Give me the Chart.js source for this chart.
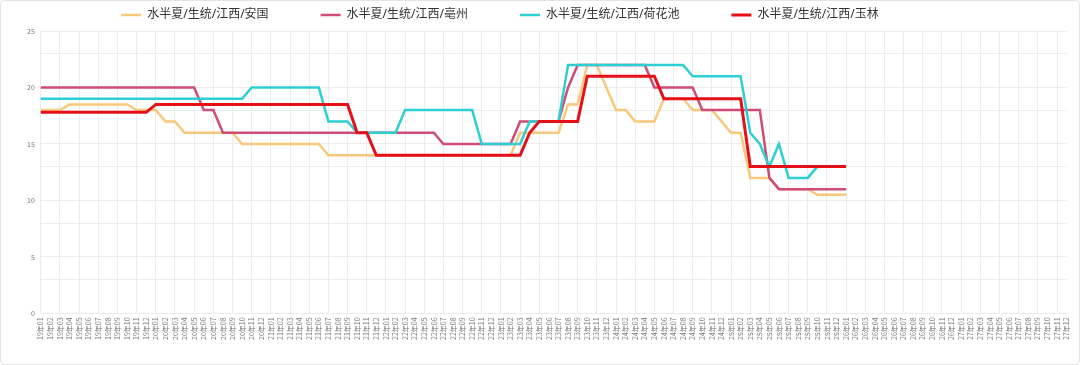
<!DOCTYPE html>
<html>
<head>
<meta charset="utf-8">
<script src="https://cdn.jsdelivr.net/npm/chart.js@4.4.1/dist/chart.umd.min.js"></script>
<style>
  html, body { margin: 0; padding: 0; background: #fff; }
  #wrap {
    position: relative;
    width: 1078px;
    height: 363px;
    border: 1px solid #e4e4e4;
    border-radius: 4px;
  }
</style>
</head>
<body>
<div id="wrap"><canvas id="priceChart"></canvas></div>
<script>
// tick labels: 19年01 ... 27年12
const years = ['19', '20', '21', '22', '23', '24', '25', '26', '27'];
const months = ['01', '02', '03', '04', '05', '06', '07', '08', '09', '10', '11', '12'];

const seriesNames = ['水半夏/生统/江西/安国', '水半夏/生统/江西/亳州', '水半夏/生统/江西/荷花池', '水半夏/生统/江西/玉林'];
const seriesColors = ['#f8c87c', '#cf4b78', '#2ccfd3', '#e50f17'];

// one row per year (19年01 .. 26年01)
const anguo = [
    18, 18, 18, 18.5, 18.5, 18.5, 18.5, 18.5, 18.5, 18.5, 18, 18,
    18, 17, 17, 16, 16, 16, 16, 16, 16, 15, 15, 15,
    15, 15, 15, 15, 15, 15, 14, 14, 14, 14, 14, 14,
    14, 14, 14, 14, 14, 14, 14, 14, 14, 14, 14, 14,
    14, 14, 16, 16, 16, 16, 16, 18.5, 18.5, 22, 22, 20,
    18, 18, 17, 17, 17, 19, 19, 19, 18, 18, 18, 17,
    16, 16, 12, 12, 12, 11, 11, 11, 11, 10.5, 10.5, 10.5,
    10.5
];
const bozhou = [
    20, 20, 20, 20, 20, 20, 20, 20, 20, 20, 20, 20,
    20, 20, 20, 20, 20, 18, 18, 16, 16, 16, 16, 16,
    16, 16, 16, 16, 16, 16, 16, 16, 16, 16, 16, 16,
    16, 16, 16, 16, 16, 16, 15, 15, 15, 15, 15, 15,
    15, 15, 17, 17, 17, 17, 17, 20, 22, 22, 22, 22,
    22, 22, 22, 22, 20, 20, 20, 20, 20, 18, 18, 18,
    18, 18, 18, 18, 12, 11, 11, 11, 11, 11, 11, 11,
    11
];
const hehuachi = [
    19, 19, 19, 19, 19, 19, 19, 19, 19, 19, 19, 19,
    19, 19, 19, 19, 19, 19, 19, 19, 19, 19, 20, 20,
    20, 20, 20, 20, 20, 20, 17, 17, 17, 16, 16, 16,
    16, 16, 18, 18, 18, 18, 18, 18, 18, 18, 15, 15,
    15, 15, 15, 17, 17, 17, 17, 22, 22, 22, 22, 22,
    22, 22, 22, 22, 22, 22, 22, 22, 21, 21, 21, 21,
    21, 21, 16, 15, 13, 15, 12, 12, 12, 13, 13, 13,
    13
];
const yulin = [
    17.8, 17.8, 17.8, 17.8, 17.8, 17.8, 17.8, 17.8, 17.8, 17.8, 17.8, 17.8,
    18.5, 18.5, 18.5, 18.5, 18.5, 18.5, 18.5, 18.5, 18.5, 18.5, 18.5, 18.5,
    18.5, 18.5, 18.5, 18.5, 18.5, 18.5, 18.5, 18.5, 18.5, 16, 16, 14,
    14, 14, 14, 14, 14, 14, 14, 14, 14, 14, 14, 14,
    14, 14, 14, 16, 17, 17, 17, 17, 17, 21, 21, 21,
    21, 21, 21, 21, 21, 19, 19, 19, 19, 19, 19, 19,
    19, 19, 13, 13, 13, 13, 13, 13, 13, 13, 13, 13,
    13
];

// labelled ticks every 5, plus the unlabelled in-between grid lines of the original
const yTicks = [0, 3, 5, 8, 10, 13, 15, 18, 20, 23, 25];

const labels = [];
years.forEach(y => months.forEach(m => labels.push(y + '年' + m)));

// later series sit on top, like the original
const seriesData = [anguo, bozhou, hehuachi, yulin];
const datasets = seriesData.map((d, i) => ({
    label: seriesNames[i],
    data: d,
    borderColor: seriesColors[i],
    backgroundColor: seriesColors[i],
    borderWidth: i === 3 ? 3 : 2.5,
    pointRadius: 0,
    pointHoverRadius: 3,
    tension: 0,
    order: 3 - i
}));

// legend sits a little left of centre in the original
const legendShift = {
    id: 'legendShift',
    afterLayout(chart) {
        chart.legend.left -= 44;
        chart.legend.right -= 44;
    }
};

const gridColor = '#ececec';

new Chart(document.getElementById('priceChart'), {
    type: 'line',
    data: { labels: labels, datasets: datasets },
    plugins: [legendShift],
    options: {
        responsive: true,
        maintainAspectRatio: false,
        animation: false,
        // big legend padding spaces the items apart, pull it up with a negative top
        layout: { padding: { left: 20, right: 12, top: -44, bottom: 20 } },
        plugins: {
            legend: {
                position: 'top',
                labels: {
                    sort: (a, b) => a.datasetIndex - b.datasetIndex,
                    usePointStyle: true,
                    pointStyle: 'line',
                    pointStyleWidth: 20,
                    boxHeight: 10,
                    padding: 52,
                    color: '#333',
                    font: { family: "'Noto Sans', 'Noto Sans CJK SC'", size: 12 }
                }
            },
            tooltip: { mode: 'index', intersect: false }
        },
        scales: {
            x: {
                grid: {
                    color: ctx => (ctx.index % 2 === 0 ? gridColor : 'transparent'),
                    drawTicks: false
                },
                border: { color: gridColor },
                ticks: {
                    autoSkip: false,
                    minRotation: 90,
                    maxRotation: 90,
                    padding: 4,
                    color: '#777',
                    font: { family: 'Noto Sans CJK SC', size: 7 }
                }
            },
            y: {
                min: 0,
                max: 25,
                afterBuildTicks: axis => { axis.ticks = yTicks.map(v => ({ value: v })); },
                grid: { color: gridColor, drawTicks: false },
                border: { color: gridColor },
                ticks: {
                    padding: 6,
                    color: '#777',
                    font: { family: 'Noto Sans CJK SC', size: 7 },
                    callback: v => (v % 5 === 0 ? v : '')
                }
            }
        }
    }
});
</script>
</body>
</html>
